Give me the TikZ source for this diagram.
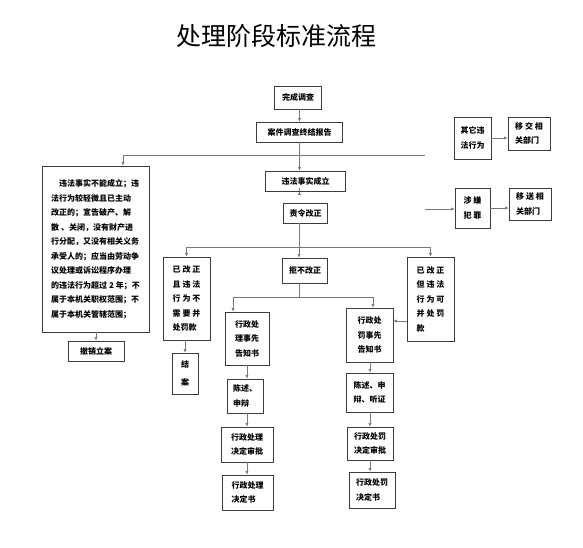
\documentclass[tikz,border=0pt]{standalone}
\usepackage{fontspec}
\setmainfont{Noto Sans CJK SC}
\usepackage{tikz}
\usetikzlibrary{arrows.meta, positioning, calc}
\definecolor{LineGray}{RGB}{120,120,120}
\definecolor{BoxGray}{RGB}{60,60,60}

\begin{document}
\begin{tikzpicture}[x=1pt, y=-1pt,
    box/.style={draw=BoxGray, line width=0.6pt, inner sep=1pt,
                font=\fontsize{8}{14.5}\selectfont\bfseries},
    line/.style={draw=LineGray, line width=0.6pt},
    arr/.style={line, -{Latex[length=3.5pt,width=3pt]}}]
  \useasboundingbox (0,0) rectangle (583,547);
  \node (title) at (276,36) {\fontsize{25}{25}\selectfont 处理阶段标准流程};

  % main column
  \node[box, minimum width=47, minimum height=23] (done) at (298,97.5) {完成调查};
  \node[box, minimum width=86, minimum height=20] (report) at (299.5,132) {案件调查终结报告};
  \node[box, minimum width=80, minimum height=20] (fact) at (305.5,181) {违法事实成立};
  \node[box, minimum width=44, minimum height=20] (order) at (305.5,213) {责令改正};
  \node[box, minimum width=45, minimum height=25] (refuse) at (305,270.5) {拒不改正};

  \node[box, minimum width=107, minimum height=166, align=left] (nofact) at (95.5,249)
    {\hspace{1em}违法事实不能成立；违\\法行为较轻微且已主动\\改正的；宣告破产、解\\散 、关闭，没有财产进\\行分配，又没有相关义务\\承受人的；应当由劳动争\\议处理或诉讼程序办理\\的违法行为超过 2 年；不\\属于本机关职权范围；不\\属于本机关管辖范围；};
  \node[box, minimum width=56, minimum height=20] (cancel) at (96,351) {撤销立案};

  \node[box, minimum width=47, minimum height=83, align=left] (fixedA) at (186.5,298.5)
    {已 改 正\\且 违 法\\行 为 不\\需 要 并\\处罚款};
  \node[box, minimum width=26, minimum height=41, align=center] (close) at (185,373.5) {结\\[3pt]案};
  \node[box, minimum width=47, minimum height=84, align=left] (fixedB) at (430.5,299)
    {已 改 正\\但 违 法\\行 为 可\\并 处 罚\\款};

  % administrative handling
  \node[box, minimum width=44, minimum height=53, align=center] (notifyA) at (247,338.5) {行政处\\理事先\\告知书};
  \node[box, minimum width=36, minimum height=34, align=left] (stateA) at (245,396) {陈述、\\申辩};
  \node[box, minimum width=52, minimum height=35, align=left] (approveA) at (247,444.5) {行政处理\\决定审批};
  \node[box, minimum width=51, minimum height=35, align=left] (decideA) at (247.5,492.5) {行政处理\\决定书};

  % administrative penalty
  \node[box, minimum width=47, minimum height=54, align=left] (notifyB) at (369.5,335) {行政处\\罚事先\\告知书};
  \node[box, minimum width=47, minimum height=39, align=left] (stateB) at (369.5,392.5) {陈述、申\\辩、听证};
  \node[box, minimum width=46, minimum height=33, align=left] (approveB) at (370,443.5) {行政处罚\\决定审批};
  \node[box, minimum width=46, minimum height=36, align=left] (decideB) at (372,490) {行政处罚\\决定书};

  % right side
  \node[box, minimum width=37, minimum height=42, align=left] (other) at (472.5,138) {其它违\\法行为};
  \node[box, minimum width=42, minimum height=33, align=left] (transfer) at (529,133.5) {移 交 相\\关部门};
  \node[box, minimum width=35, minimum height=40, align=left] (crime) at (472.5,208) {涉 嫌\\犯 罪};
  \node[box, minimum width=42, minimum height=32, align=left] (send) at (530,204) {移 送 相\\关部门};

  \coordinate (lineL) at (123,155);
  \coordinate (lineR) at (425,155);
  \coordinate (fork1) at (299,247);
  \coordinate (fork2L) at (233,297);
  \coordinate (fork2R) at (373,297);
  \coordinate (crimeIn) at (425,209);
  \coordinate (penaltyIn) at (0,321);

  \draw[arr] (done.south -| report) -- (report.north);
  \draw[line] (lineR) -- (lineL);
  \draw[arr] (lineL) -- (lineL |- nofact.north);
  \draw[arr] (report.south) -- (report.south |- fact.north);
  \draw[arr] (fact.south -| report) -- (fact.south -| report |- order.north);
  \draw[line] (order.south -| fork1) -- (fork1);
  \draw[line] (fixedA |- fork1) -- (fixedB |- fork1);
  \draw[arr] (fixedA |- fork1) -- (fixedA.north);
  \draw[arr] (fork1) -- (fork1 |- refuse.north);
  \draw[arr] (fixedB |- fork1) -- (fixedB.north);

  \draw[arr] (nofact.south -| cancel) -- (cancel.north);
  \draw[arr] (fixedA.south -| close) -- (close.north);

  \draw[line] (refuse.south -| fork1) -- (fork1 |- fork2L);
  \draw[line] (fork2L) -- (fork2R);
  \draw[arr] (fork2L) -- (fork2L |- notifyA.north);
  \draw[arr] (fork2R) -- (fork2R |- notifyB.north);
  \draw[arr] (fixedB.west |- penaltyIn) -- (notifyB.east |- penaltyIn);

  \draw[arr] (notifyA.south -| approveA) -- (approveA |- stateA.north);
  \draw[arr] (stateA.south -| approveA) -- (approveA.north);
  \draw[arr] (approveA.south) -- (approveA.south |- decideA.north);
  \draw[arr] (notifyB.south -| approveB) -- (approveB |- stateB.north);
  \draw[arr] (stateB.south -| approveB) -- (approveB.north);
  \draw[arr] (approveB.south) -- (approveB.south |- decideB.north);

  \draw[arr] (other.east) -- (other.east -| transfer.west);
  \draw[arr] (crimeIn) -- (crimeIn -| crime.west);
  \draw[arr] (crime.east) -- (crime.east -| send.west);
\end{tikzpicture}
\end{document}
